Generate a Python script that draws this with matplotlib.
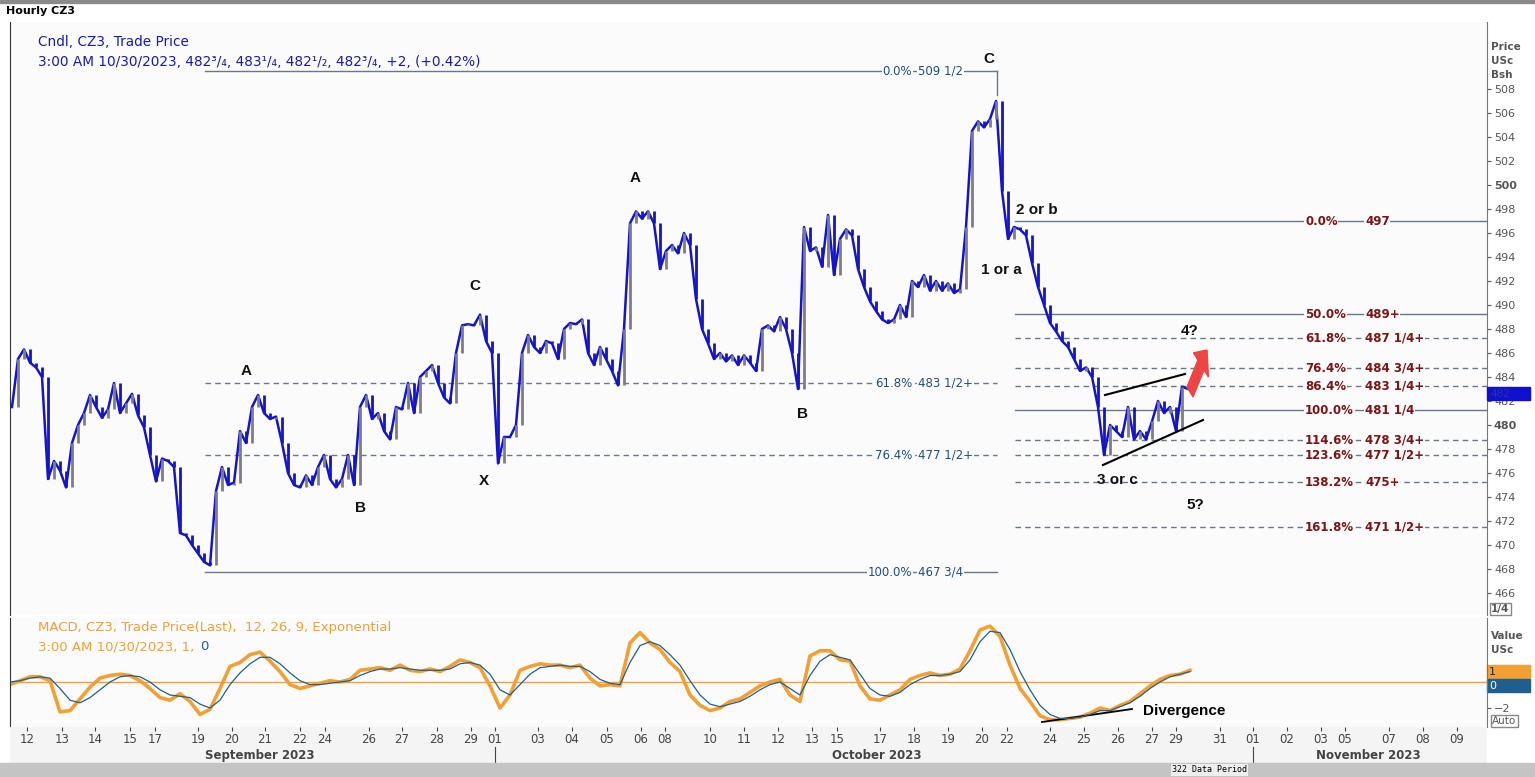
import numpy as np
import matplotlib
matplotlib.use('Agg')
import matplotlib.pyplot as plt
from matplotlib.patches import Rectangle, FancyArrow

# ── Data ────────────────────────────────────────────────────────────────────
# hourly CZ3 closes, sampled every ~3 bars (USc/bu)
closes = [
    481.5, 485.5, 486.3, 485.2, 484.8, 484.0, 475.5, 477.0, 476.2, 474.8,
    478.5, 480.0, 481.0, 482.5, 481.5, 480.6, 481.3, 483.5, 481.0, 481.8,
    482.6, 480.8, 479.8, 477.5, 475.3, 477.2, 477.0, 476.5, 471.0, 470.8,
    470.0, 469.3, 468.6, 468.3, 474.5, 476.5, 475.0, 475.2, 479.5, 478.5,
    481.5, 482.5, 481.0, 480.5, 480.7, 478.5, 476.0, 475.0, 474.8, 475.8,
    475.0, 476.5, 477.5, 475.5, 474.8, 475.5, 477.5, 475.0, 481.5, 482.5,
    480.5, 481.0, 479.5, 478.8, 481.5, 481.3, 483.5, 481.0, 484.0, 484.5,
    485.0, 483.5, 482.3, 481.8, 486.0, 488.3, 488.4, 488.3, 489.2, 487.0,
    486.0, 476.8, 479.0, 479.0, 480.0, 486.0, 487.5, 486.5, 486.0, 487.0,
    486.8, 485.5, 488.0, 488.5, 488.4, 488.8, 486.0, 485.0, 486.5, 485.5,
    484.5, 483.3, 488.0, 496.8, 497.8, 497.2, 497.8, 496.8, 493.0, 494.5,
    495.0, 494.3, 496.0, 495.0, 490.5, 488.0, 486.8, 485.5, 486.0, 485.3,
    485.8, 485.0, 485.8, 485.2, 484.5, 488.0, 488.3, 487.8, 489.0, 488.0,
    486.0, 483.0, 496.5, 494.5, 494.8, 493.2, 497.5, 492.5, 495.5, 496.3,
    495.8, 493.0, 491.5, 490.3, 489.5, 488.8, 488.5, 488.8, 490.0, 489.0,
    492.0, 491.5, 492.5, 491.2, 492.0, 491.2, 491.8, 491.0, 491.3, 496.5,
    504.5, 505.3, 504.8, 505.5, 507.0, 499.5, 495.5, 496.5, 496.3, 495.8,
    493.5, 491.5, 490.0, 488.5, 487.8, 487.0, 486.5, 485.5, 484.5, 484.8,
    484.0, 481.5, 477.5, 480.0, 479.5, 479.0, 481.5, 478.8, 479.5, 478.8,
    480.3, 482.0, 481.0, 481.5, 479.5, 483.2, 483.0, 482.8,
]

# MACD(12,26,9) and its signal line, sampled every ~5 bars
macd = [
    -0.2, 0.1, 0.4, 0.4, 0.1, -2.3, -2.2, -1.3, -0.4, 0.3,
    0.5, 0.6, 0.5, 0.1, -0.5, -1.2, -1.4, -0.9, -1.5, -2.5,
    -2.1, -0.5, 1.2, 1.5, 2.1, 2.3, 1.6, 0.8, -0.2, -0.5,
    -0.3, -0.1, 0.1, 0.0, 0.2, 0.9, 1.0, 1.1, 0.9, 1.3,
    0.9, 0.8, 1.0, 0.8, 1.2, 1.7, 1.5, 1.1, -0.3, -2.0,
    -1.0, 0.9, 1.2, 1.4, 1.3, 1.3, 1.1, 1.3, 0.3, -0.3,
    -0.2, -0.3, 3.0, 3.8, 3.0, 2.5, 1.5, 0.8, -1.0, -1.8,
    -2.2, -2.0, -1.5, -1.3, -0.8, -0.3, 0.0, 0.2, -1.0, -1.5,
    2.0, 2.4, 2.4, 1.7, 1.6, -0.3, -1.3, -1.4, -1.0, -0.6,
    0.2, 0.5, 0.7, 0.5, 0.6, 1.0, 2.4, 4.0, 4.3, 3.5,
    1.3, -0.5, -1.5, -2.6, -2.9, -2.9, -2.8, -2.7, -2.4, -2.0,
    -2.2, -1.8, -1.5, -0.9, -0.3, 0.2, 0.5, 0.6, 0.9,
]
signal = [
    0.0, 0.1, 0.3, 0.4, 0.3, -0.5, -1.4, -1.6, -1.2, -0.6,
    0.0, 0.4, 0.5, 0.4, 0.0, -0.6, -1.0, -1.1, -1.2, -1.7,
    -2.0, -1.4, -0.2, 0.7, 1.4, 1.9, 1.9, 1.4, 0.7, 0.1,
    -0.2, -0.2, -0.1, 0.0, 0.1, 0.5, 0.8, 1.0, 1.0, 1.1,
    1.0, 0.9, 0.9, 0.9, 1.0, 1.4, 1.5, 1.3, 0.6, -0.6,
    -1.0, -0.2, 0.6, 1.1, 1.2, 1.3, 1.2, 1.2, 0.8, 0.2,
    -0.1, -0.2, 1.5, 2.8, 3.1, 2.8, 2.1, 1.3, 0.1, -1.0,
    -1.7, -1.9, -1.7, -1.5, -1.1, -0.6, -0.2, 0.0, -0.5, -1.0,
    0.5, 1.6, 2.1, 1.9, 1.7, 0.6, -0.5, -1.0, -1.1, -0.8,
    -0.2, 0.2, 0.5, 0.5, 0.6, 0.8, 1.7, 3.1, 3.9, 3.8,
    2.5, 0.8, -0.6, -1.8, -2.5, -2.8, -2.8, -2.7, -2.5, -2.2,
    -2.2, -1.9, -1.6, -1.1, -0.5, 0.0, 0.4, 0.6, 0.8,
]

# fibonacci levels
fib_left_pct = ['0.0%', '61.8%', '76.4%', '100.0%']
fib_left_lvl = [509.5, 483.5, 477.5, 467.75]
fib_left_txt = ['509 1/2', '483 1/2+', '477 1/2+', '467 3/4']
fib_left_solid = [True, False, False, True]

fib_right_pct = ['0.0%', '50.0%', '61.8%', '76.4%', '86.4%', '100.0%',
                 '114.6%', '123.6%', '138.2%', '161.8%']
fib_right_lvl = [497.0, 489.25, 487.25, 484.75, 483.25, 481.25,
                 478.75, 477.5, 475.25, 471.5]
fib_right_txt = ['497', '489+', '487 1/4+', '484 3/4+', '483 1/4+', '481 1/4',
                 '478 3/4+', '477 1/2+', '475+', '471 1/2+']
fib_right_solid = [True, True, False, False, False, True,
                   False, False, False, False]

# date axis
day_labels = ['12', '13', '14', '15', '17', '19', '20', '21', '22', '24',
              '26', '27', '28', '29', '01', '03', '04', '05', '06', '08',
              '10', '11', '12', '13', '15', '17', '18', '19', '20', '22',
              '24', '25', '26', '27', '29', '31', '01', '02', '03', '05',
              '07', '08', '09']
day_px = [27, 62, 95, 130, 155, 198, 232, 265, 300, 325,
          369, 402, 437, 471, 495, 538, 572, 607, 641, 665,
          710, 744, 778, 812, 837, 880, 914, 948, 982, 1007,
          1050, 1084, 1118, 1152, 1176, 1220, 1253, 1287, 1321, 1345,
          1389, 1423, 1457]
months = ['September 2023', 'October 2023', 'November 2023']
month_px = [260, 877, 1368]

W, H = 1535, 777
BG = '#fbfbfc'
BLUE = '#1414c8'
UPGREY = '#7d7d85'
LINEC = '#66788a'
LEFTC = '#1f4e79'
RIGHTC = '#7b1414'
ORANGE = '#f2a033'


def bx(px):
    """pixel x -> bar index"""
    return (px - 10) / 6.0


def py(y):
    """pixel y -> price"""
    return 508 - (y - 89) / 12.0


def my(y):
    """pixel y -> macd value"""
    return (682 - y) / 13.0


fig = plt.figure(figsize=(W / 100, H / 100), dpi=100)
fig.patch.set_facecolor('white')

x_right = bx(1487)

# ── Main price panel ───────────────────────────────────────────────────────
ax = fig.add_axes([10 / W, 1 - 615 / H, 1477 / W, 593 / H])
ax.set_facecolor(BG)
ax.set_xlim(0, x_right)
ax.set_ylim(py(615), py(22))

c = np.array(closes)
xi = np.arange(len(c)) + bx(12)
prev = np.r_[c[0], c[:-1]]
cols = [UPGREY if a >= b else BLUE for a, b in zip(c, prev)]
ax.plot(xi, c, color=BLUE, lw=1.8, zorder=3)
ax.vlines(xi, np.minimum(prev, c), np.maximum(prev, c), colors=cols, lw=2.0, zorder=4)

# left fibonacci
for pct, lvl, txt, solid in zip(fib_left_pct, fib_left_lvl, fib_left_txt, fib_left_solid):
    ax.plot([bx(205), bx(997)], [lvl, lvl], color=LINEC, lw=1,
            ls='-' if solid else (0, (4, 3)), zorder=2)
    ax.text(bx(912), lvl, pct, color=LEFTC, fontsize=8.5, ha='right', va='center',
            bbox=dict(facecolor=BG, edgecolor='none', pad=0.5), zorder=5)
    ax.text(bx(918), lvl, txt, color=LEFTC, fontsize=8.5, ha='left', va='center',
            bbox=dict(facecolor=BG, edgecolor='none', pad=0.5), zorder=5)
ax.plot([bx(997), bx(997)], [509.5, 507.5], color=LINEC, lw=1)

# right fibonacci
for pct, lvl, txt, solid in zip(fib_right_pct, fib_right_lvl, fib_right_txt, fib_right_solid):
    ax.plot([bx(1015), x_right], [lvl, lvl], color=LINEC, lw=1,
            ls='-' if solid else (0, (4, 3)), zorder=2)
    ax.text(bx(1305), lvl, pct, color=RIGHTC, fontsize=8.5, fontweight='bold',
            ha='left', va='center', bbox=dict(facecolor=BG, edgecolor='none', pad=0.5), zorder=5)
    ax.text(bx(1365), lvl, txt, color=RIGHTC, fontsize=8.5, fontweight='bold',
            ha='left', va='center', bbox=dict(facecolor=BG, edgecolor='none', pad=0.5), zorder=5)

# wave labels
waves = [('A', 246, 371), ('B', 361, 508), ('C', 475, 286), ('X', 484, 481),
         ('A', 635, 178), ('B', 803, 414), ('C', 989, 59), ('2 or b', 1037, 210),
         ('1 or a', 1001, 270), ('3 or c', 1117, 480), ('4?', 1190, 331),
         ('5?', 1195, 505)]
for t, x, y in waves:
    ax.text(bx(x), py(y), t, fontsize=11, fontweight='bold', color='#111111',
            ha='center', va='center', family='Liberation Sans', zorder=6)

# wedge + arrow
ax.plot([bx(1105), bx(1185)], [py(395), py(374)], color='black', lw=1.5, zorder=6)
ax.plot([bx(1103), bx(1203)], [py(465), py(420)], color='black', lw=1.5, zorder=6)
ax.add_patch(FancyArrow(bx(1190), py(392), bx(1207) - bx(1190), py(350) - py(392),
                        width=1.3, head_width=3.2, head_length=1.6,
                        length_includes_head=True, color='#ee4444', zorder=6))

# info text
ax.text(bx(38), py(42), 'Cndl, CZ3, Trade Price', color='#1a1aa8', fontsize=9.8,
        va='center', ha='left')
ax.text(bx(38), py(62), '3:00 AM 10/30/2023, 482³/₄, 483¹/₄, 482¹/₂, 482³/₄, +2, (+0.42%)',
        color='#1a1aa8', fontsize=9.8, va='center', ha='left',
        bbox=dict(facecolor=BG, edgecolor='none', pad=0.5), zorder=5)

ax.set_xticks([])
ax.yaxis.tick_right()
ax.set_yticks(np.arange(466, 509, 2))
ax.tick_params(axis='y', length=3, labelsize=8, colors='#555555', pad=2)
for lab in ax.get_yticklabels():
    if lab.get_text() in ('480', '500'):
        lab.set_fontweight('bold')
for s in ['top', 'bottom']:
    ax.spines[s].set_visible(False)
ax.spines['left'].set_color('#333333')
ax.spines['right'].set_color('#777777')

# current price marker
ax.add_patch(Rectangle((x_right, py(400)), bx(1530) - x_right, py(387) - py(400),
                       color='#1010d0', clip_on=False, zorder=7))
ax.text(bx(1490), py(393.5), '482', color='#3030a0', fontsize=7.5, va='center',
        ha='left', zorder=8)
fig.text(1491 / W, 1 - 42 / H, 'Price\nUSc\nBsh', fontsize=7.5, color='#555555',
         va='top', ha='left', fontweight='bold', linespacing=1.5)
fig.text(1491 / W, 1 - 609 / H, '1/4', fontsize=7.5, color='#555555', va='center',
         ha='left', fontweight='bold',
         bbox=dict(facecolor='white', edgecolor='#888888', pad=1))

# ── MACD panel ─────────────────────────────────────────────────────────────
mx = fig.add_axes([10 / W, 1 - 727 / H, 1477 / W, 109 / H])
mx.set_facecolor(BG)
mx.set_xlim(0, x_right)
mx.set_ylim(my(727), my(618))
mi = np.arange(len(macd)) * (10 / 6.0)
mx.axhline(0, color=ORANGE, lw=1)
mx.plot(mi, signal, color='#1f5f8f', lw=0.9, zorder=3)
mx.plot(mi, macd, color=ORANGE, lw=2.6, zorder=2)
mx.plot([bx(1042), bx(1132)], [my(722), my(709)], color='black', lw=1.3)
mx.text(bx(1143), my(711), 'Divergence', fontsize=11, fontweight='bold',
        family='Liberation Sans', va='center', ha='left')
mx.text(bx(38), my(628), 'MACD, CZ3, Trade Price(Last),  12, 26, 9, Exponential',
        color=ORANGE, fontsize=9.5, va='center')
t_last = mx.text(bx(38), my(647), '3:00 AM 10/30/2023, 1,', color=ORANGE,
                 fontsize=9.5, va='center')
mx.annotate('0', xy=(1, 0.5), xycoords=t_last, xytext=(4, 0),
            textcoords='offset points', color='#1f5f8f', fontsize=9.5,
            va='center', ha='left')

mx.yaxis.tick_right()
mx.set_yticks([-2])
mx.tick_params(axis='y', length=3, labelsize=8, colors='#555555', pad=2)
mx.set_xticks([])
for s in ['top', 'bottom']:
    mx.spines[s].set_visible(False)
mx.spines['left'].set_color('#333333')
mx.spines['right'].set_color('#777777')
mx.add_patch(Rectangle((x_right, my(678)), bx(1530) - x_right, my(665) - my(678),
                       color=ORANGE, clip_on=False))
mx.add_patch(Rectangle((x_right, my(692)), bx(1530) - x_right, my(679) - my(692),
                       color='#1f5f8f', clip_on=False))
fig.text(1489 / W, 1 - 672 / H, '1', fontsize=8, color='#222222', va='center')
fig.text(1489 / W, 1 - 686 / H, '0', fontsize=8, color='white', va='center')
fig.text(1491 / W, 1 - 631 / H, 'Value\nUSc', fontsize=7.5, color='#555555',
         va='top', ha='left', fontweight='bold', linespacing=1.5)
fig.text(1492 / W, 1 - 721 / H, 'Auto', fontsize=7.5, color='#555555', va='center',
         ha='left', bbox=dict(facecolor='white', edgecolor='#888888', pad=1))

# ── Date axis ──────────────────────────────────────────────────────────────
dx = fig.add_axes([10 / W, 1 - 763 / H, 1477 / W, 36 / H])
dx.set_facecolor('#f4f4f4')
dx.set_xlim(0, x_right)
dx.set_ylim(0, 1)
dx.set_yticks([])
dx.set_xticks([bx(p) for p in day_px])
dx.set_xticklabels(day_labels)
dx.xaxis.tick_top()
dx.tick_params(axis='x', length=3, pad=-14, labelsize=8.5, colors='#444444', direction='in')
for s in dx.spines.values():
    s.set_visible(False)
for m, p in zip(months, month_px):
    dx.text(bx(p), 0.22, m, ha='center', va='center', fontsize=8.5,
            fontweight='bold', color='#444444')
for p in [495, 1253]:
    dx.plot([bx(p), bx(p)], [0.0, 0.45], color='#444444', lw=0.8)

# scroll bar + header
fig.patches.append(Rectangle((0, 0), 1, 14 / H, transform=fig.transFigure,
                             color='#c4c4c4', zorder=0))
fig.patches.append(Rectangle((0, 1 - 3 / H), 1, 3 / H, transform=fig.transFigure,
                             color='#8a8a8a', zorder=0))
fig.text(6 / W, 1 - 11 / H, 'Hourly CZ3', fontsize=8, fontweight='bold', va='center')
fig.text(1172 / W, 7 / H, '322 Data Period', fontsize=6, family='DejaVu Sans Mono',
         va='center', bbox=dict(facecolor='#eeeeee', edgecolor='none', pad=1))

fig.savefig('out.png', dpi=100)
